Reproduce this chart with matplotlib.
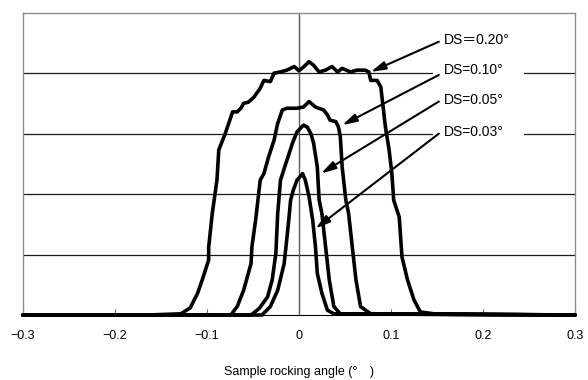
import matplotlib

matplotlib.use("Agg")
import matplotlib.pyplot as plt
from matplotlib.patches import Rectangle

# rocking curves (x in degrees, y in grid units)
x_020 = [-0.3, -0.165, -0.128, -0.118, -0.110, -0.105, -0.098, -0.098, -0.094, -0.089,
         -0.087, -0.080, -0.072, -0.067, -0.063, -0.060, -0.055, -0.049, -0.042, -0.038,
         -0.031, -0.027, -0.020, -0.013, -0.005, 0.000, 0.005, 0.011, 0.016, 0.022,
         0.029, 0.036, 0.042, 0.047, 0.056, 0.063, 0.072, 0.076, 0.078, 0.085,
         0.089, 0.094, 0.098, 0.101, 0.103, 0.109, 0.112, 0.118, 0.125, 0.132,
         0.147, 0.3]
y_020 = [0, 0, 0.02, 0.12, 0.36, 0.58, 0.91, 1.12, 1.69, 2.23,
         2.73, 3.00, 3.36, 3.36, 3.42, 3.50, 3.52, 3.60, 3.75, 3.88,
         3.86, 4.00, 4.02, 4.05, 4.11, 4.04, 4.10, 4.19, 4.13, 4.02,
         4.05, 4.11, 4.02, 4.08, 4.02, 4.05, 4.05, 4.02, 3.88, 3.88,
         3.77, 3.11, 2.73, 2.34, 1.90, 1.62, 0.96, 0.58, 0.25, 0.05,
         0.02, 0]

x_010 = [-0.3, -0.074, -0.067, -0.060, -0.052, -0.051, -0.047, -0.042, -0.038, -0.033,
         -0.027, -0.023, -0.018, -0.013, -0.002, 0.005, 0.011, 0.018, 0.027, 0.031,
         0.034, 0.040, 0.043, 0.045, 0.047, 0.051, 0.054, 0.058, 0.062, 0.067,
         0.078, 0.3]
y_010 = [0, 0, 0.14, 0.41, 0.85, 1.13, 1.57, 2.23, 2.34, 2.61,
         2.89, 3.17, 3.39, 3.42, 3.42, 3.44, 3.53, 3.44, 3.39, 3.31,
         3.22, 3.20, 3.11, 2.95, 2.45, 1.90, 1.68, 1.13, 0.58, 0.14,
         0.02, 0]

x_005 = [-0.3, -0.052, -0.043, -0.034, -0.029, -0.025, -0.023, -0.020, -0.013, -0.007,
         -0.002, 0.005, 0.009, 0.013, 0.016, 0.020, 0.022, 0.025, 0.029, 0.033,
         0.038, 0.045, 0.3]
y_005 = [0, 0, 0.11, 0.30, 0.58, 1.02, 1.68, 2.23, 2.56, 2.84,
         3.03, 3.14, 3.11, 3.00, 2.84, 2.45, 1.90, 1.68, 1.13, 0.58,
         0.14, 0.02, 0]

x_003 = [-0.3, -0.040, -0.031, -0.023, -0.016, -0.014, -0.011, -0.009, -0.006, -0.002,
         0.004, 0.007, 0.011, 0.015, 0.018, 0.020, 0.025, 0.031, 0.038, 0.3]
y_003 = [0, 0, 0.14, 0.41, 0.85, 1.13, 1.57, 1.90, 2.07, 2.23,
         2.34, 2.23, 1.96, 1.57, 1.13, 0.69, 0.36, 0.08, 0.02, 0]

labels = ["DS\uff1d0.20\u00b0", "DS=0.10\u00b0", "DS=0.05\u00b0", "DS=0.03\u00b0"]
label_y = [4.55, 4.05, 3.55, 3.02]
arrow_tail_y = [4.52, 3.97, 3.53, 3.00]
arrow_head = [(0.078, 4.02), (0.047, 3.14), (0.024, 2.34), (0.018, 1.43)]

xticks = [-0.3, -0.2, -0.1, 0, 0.1, 0.2, 0.3]
xticklabels = ["\u22120.3", "\u22120.2", "\u22120.1", "0", "0.1", "0.2", "0.3"]

plt.rcParams["font.family"] = ["Liberation Sans", "Noto Sans CJK JP", "DejaVu Sans"]

fig = plt.figure(figsize=(5.88, 3.80), dpi=100)
ax = fig.add_axes([0.0386, 0.171, 0.9394, 0.7956])

for yg in [1, 2, 3, 4]:
    ax.axhline(yg, color="0.1", lw=0.9, zorder=1)
ax.axvline(0, color="0.35", lw=1.0, zorder=1)

# white text box hiding the gridlines behind the labels
ax.add_patch(Rectangle((0.146, 2.75), 0.098, 1.95, facecolor="white",
                       edgecolor="none", zorder=2))

for xs, ys in [(x_020, y_020), (x_010, y_010), (x_005, y_005), (x_003, y_003)]:
    ax.plot(xs, ys, color="black", lw=2.6, solid_joinstyle="round",
            solid_capstyle="round", zorder=3, clip_on=False)

for lab, ly, ty, head in zip(labels, label_y, arrow_tail_y, arrow_head):
    ax.text(0.158, ly, lab, fontsize=10, va="center", ha="left", zorder=5)
    ax.annotate("", xy=head, xytext=(0.152, ty),
                arrowprops=dict(arrowstyle="-|>,head_length=0.8,head_width=0.22",
                                color="black", lw=1.5, mutation_scale=11,
                                shrinkA=0, shrinkB=0),
                zorder=4)

ax.set_xlim(-0.3, 0.3)
ax.set_ylim(0, 5)
ax.set_xticks(xticks)
ax.set_xticklabels(xticklabels, fontsize=9)
ax.set_yticks([])
ax.tick_params(axis="x", direction="in", length=4, color="0.4", pad=11)
for side in ["left", "right", "top"]:
    ax.spines[side].set_color("0.55")
    ax.spines[side].set_linewidth(1.0)
ax.spines["bottom"].set_color("black")
ax.set_xlabel("Sample rocking angle (\u00b0\u3000)", fontsize=9, labelpad=17)

fig.savefig("out.png", dpi=100)
